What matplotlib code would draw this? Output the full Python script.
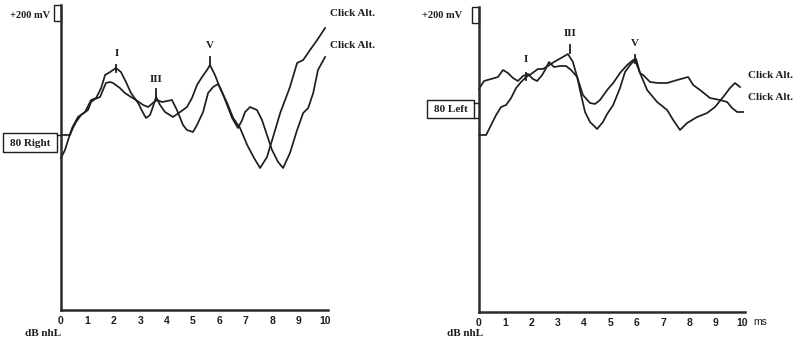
import matplotlib.pyplot as plt
from matplotlib.patches import Rectangle

# ---- data (ms, amplitude in arbitrary display units) ----
right_a_ms = [0.00, 0.15, 0.27, 0.42, 0.64, 0.91, 1.14, 1.33, 1.52, 1.67, 1.86, 2.08, 2.27, 2.46,
              2.65, 2.92, 3.11, 3.22, 3.37, 3.48, 3.60, 3.75, 3.94, 4.24, 4.51, 4.77, 4.96, 5.15,
              5.34, 5.53, 5.64, 5.83, 6.02, 6.29, 6.52, 6.78, 7.05, 7.31, 7.54, 7.80, 8.03, 8.30,
              8.67, 8.94, 9.17, 9.43, 9.70, 10.00]
right_a_amp = [152, 160, 170, 182, 193, 198, 210, 212, 222, 235, 238, 242, 238, 228,
               217, 207, 197, 192, 195, 203, 213, 205, 198, 193, 198, 203, 212, 225,
               233, 240, 245, 235, 222, 207, 192, 182, 165, 152, 142, 153, 173, 197,
               223, 247, 250, 260, 270, 282]

right_b_ms = [0.00, 0.34, 0.45, 0.57, 0.76, 1.02, 1.14, 1.29, 1.48, 1.59, 1.70, 1.86, 1.97, 2.23,
              2.42, 2.65, 2.84, 3.11, 3.30, 3.48, 3.64, 3.83, 4.02, 4.20, 4.39, 4.62, 4.77, 5.00,
              5.15, 5.38, 5.57, 5.76, 5.95, 6.10, 6.29, 6.48, 6.70, 6.86, 6.97, 7.16, 7.42, 7.61,
              7.80, 7.99, 8.22, 8.41, 8.67, 8.94, 9.17, 9.36, 9.55, 9.73, 10.00]
right_b_amp = [175, 175, 182, 188, 195, 200, 208, 211, 213, 220, 227, 228, 227, 222,
               217, 213, 210, 205, 203, 207, 210, 208, 209, 210, 200, 185, 180, 178,
               185, 198, 217, 223, 226, 218, 205, 192, 182, 190, 198, 203, 200, 190,
               175, 160, 148, 142, 157, 180, 197, 202, 217, 240, 253]

left_a_ms = [0.00, 0.19, 0.46, 0.72, 0.91, 1.10, 1.29, 1.48, 1.67, 1.86, 2.05, 2.21, 2.40, 2.51,
             2.66, 2.85, 3.08, 3.31, 3.50, 3.73, 3.95, 4.22, 4.41, 4.60, 4.87, 5.10, 5.36, 5.63,
             5.86, 5.97, 6.12, 6.39, 6.77, 7.15, 7.38, 7.64, 7.91, 8.29, 8.67, 8.97, 9.28, 9.54,
             9.73, 9.92]
left_a_amp = [223, 231, 233, 235, 242, 239, 234, 231, 236, 238, 233, 231, 237, 242,
              250, 245, 246, 246, 242, 235, 217, 209, 208, 212, 222, 229, 239, 247,
              252, 253, 239, 222, 210, 202, 192, 182, 189, 195, 199, 205, 215, 224,
              229, 225]

left_b_ms = [0.00, 0.27, 0.46, 0.65, 0.84, 1.03, 1.22, 1.41, 1.60, 1.79, 1.98, 2.24, 2.43, 2.62,
             2.85, 3.12, 3.38, 3.57, 3.73, 3.88, 4.03, 4.22, 4.49, 4.71, 4.87, 5.10, 5.36, 5.55,
             5.74, 5.93, 6.12, 6.24, 6.50, 6.81, 7.15, 7.53, 7.95, 8.14, 8.40, 8.78, 9.16, 9.43,
             9.62, 9.81, 10.04]
left_b_amp = [177, 177, 187, 197, 205, 207, 214, 224, 230, 235, 238, 243, 243, 246,
              250, 254, 258, 250, 235, 217, 200, 190, 183, 190, 198, 207, 224, 240,
              247, 252, 239, 237, 230, 229, 229, 232, 235, 227, 222, 214, 212, 210,
              204, 200, 200]

ticks = list(range(11))
right_peaks = [("I", 2.10, 257, 245, 238), ("III", 3.60, 231, 221, 213), ("V", 5.64, 265, 253, 245)]
left_peaks = [("I", 1.79, 252, 239, 232), ("III", 3.46, 279, 267, 259), ("V", 5.93, 269, 257, 249)]

serif = "Liberation Serif"
sans = "Liberation Sans"
ink = "#1e1e1e"

fig = plt.figure(figsize=(7.98, 3.44), dpi=100)
ax1 = fig.add_axes([61 / 798, 34 / 344, 267 / 798, 305 / 344])
ax2 = fig.add_axes([479 / 798, 32 / 344, 266 / 798, 305 / 344])


def setup(ax):
    ax.set_xlim(0, 10.11)
    ax.set_ylim(0, 305)
    for s in ["top", "right"]:
        ax.spines[s].set_visible(False)
    for s in ["left", "bottom"]:
        ax.spines[s].set_linewidth(1.8)
        ax.spines[s].set_color("#2a2a2a")
    ax.set_yticks([])
    ax.set_xticks(ticks)
    ax.tick_params(axis="x", length=0, pad=4)
    for lab in ax.get_xticklabels():
        lab.set_fontfamily(sans)
        lab.set_fontweight("bold")
        lab.set_fontsize(7.5)
        lab.set_color(ink)
    ax.patch.set_alpha(0)


def peaks(ax, items):
    for name, x, ty, t0, t1 in items:
        ax.text(x, ty, name, family=serif, fontsize=8, fontweight="bold", color=ink,
                ha="center", va="center")
        ax.plot([x, x], [t1, t0], color=ink, lw=1.3)


def cal_box(ax, tx, ty):
    ax.add_patch(Rectangle((-0.27, 289), 0.27, 16, fill=False, lw=1.0, ec=ink, clip_on=False))
    ax.text(tx, ty, "+200 mV", family=serif, fontsize=7.5, fontweight="bold", color=ink,
            ha="right", va="center", clip_on=False)


# ---- left panel (right ear) ----
setup(ax1)
ax1.plot(right_a_ms, right_a_amp, color=ink, lw=1.25, clip_on=False)
ax1.plot(right_b_ms, right_b_amp, color=ink, lw=1.25, clip_on=False)
peaks(ax1, right_peaks)
cal_box(ax1, -0.42, 295)
ax1.add_patch(Rectangle((-2.20, 158), 2.05, 19, fill=False, lw=1.0, ec=ink, clip_on=False))
ax1.text(-1.17, 167, "80 Right", family=serif, fontsize=8, fontweight="bold", color=ink,
         ha="center", va="center", clip_on=False)
ax1.plot([-0.15, 0], [175, 175], color=ink, lw=1.0, clip_on=False)
ax1.text(10.19, 296, "Click Alt.", family=serif, fontsize=8, fontweight="bold", color=ink,
         ha="left", va="center", clip_on=False)
ax1.text(10.19, 265, "Click Alt.", family=serif, fontsize=8, fontweight="bold", color=ink,
         ha="left", va="center", clip_on=False)
ax1.text(-0.68, -24, "dB nhL", family=serif, fontsize=8, fontweight="bold", color=ink,
         ha="center", va="center", clip_on=False)

# ---- right panel (left ear) ----
setup(ax2)
ax2.plot(left_a_ms, left_a_amp, color=ink, lw=1.25, clip_on=False)
ax2.plot(left_b_ms, left_b_amp, color=ink, lw=1.25, clip_on=False)
peaks(ax2, left_peaks)
cal_box(ax2, -0.65, 297)
ax2.add_patch(Rectangle((-1.98, 194), 1.79, 18, fill=False, lw=1.0, ec=ink, clip_on=False))
ax2.text(-1.08, 203, "80 Left", family=serif, fontsize=8, fontweight="bold", color=ink,
         ha="center", va="center", clip_on=False)
ax2.plot([-0.19, 0], [209, 209], color=ink, lw=1.0, clip_on=False)
ax2.plot([-0.19, 0], [194, 194], color=ink, lw=1.0, clip_on=False)
ax2.text(10.23, 236, "Click Alt.", family=serif, fontsize=8, fontweight="bold", color=ink,
         ha="left", va="center", clip_on=False)
ax2.text(10.23, 214, "Click Alt.", family=serif, fontsize=8, fontweight="bold", color=ink,
         ha="left", va="center", clip_on=False)
ax2.text(10.68, -10, "ms", family=sans, fontsize=7.5, color=ink,
         ha="center", va="center", clip_on=False)
ax2.text(-0.53, -22, "dB nhL", family=serif, fontsize=8, fontweight="bold", color=ink,
         ha="center", va="center", clip_on=False)

fig.savefig("out.png", dpi=100)
